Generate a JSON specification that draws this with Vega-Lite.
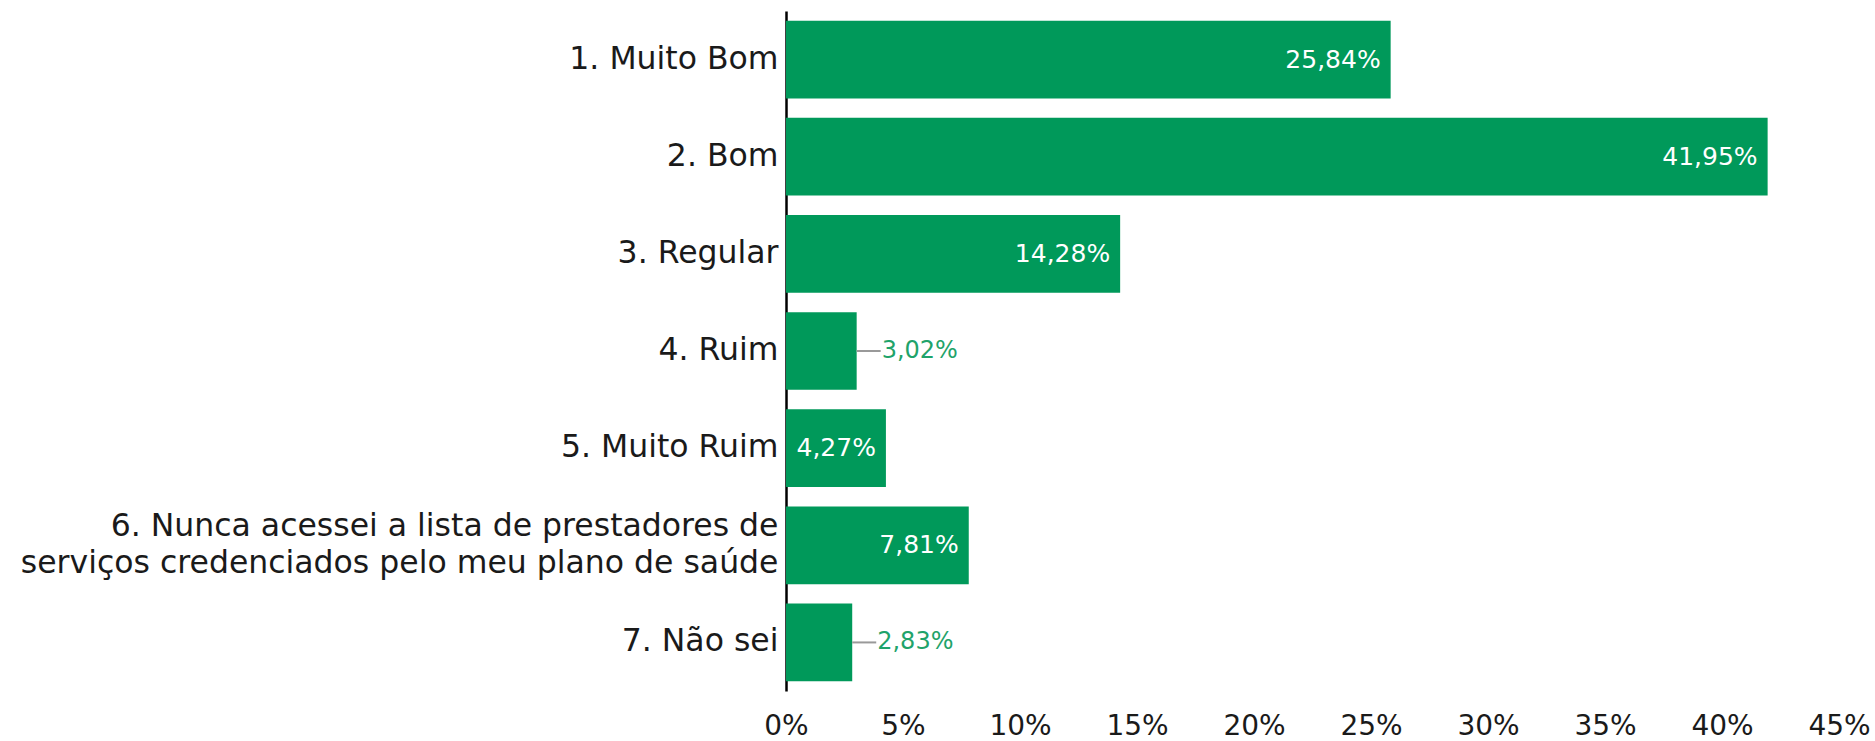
{
  "$schema": "https://vega.github.io/schema/vega-lite/v6.json",
  "width": 1053,
  "height": 680,
  "autosize": {"type": "none"},
  "padding": {"left": 786, "top": 11, "right": 36, "bottom": 50},
  "background": "white",
  "config": {"view": {"stroke": null}, "font": "DejaVu Sans"},
  "data": {
    "values": [
      {"cat": "1. Muito Bom", "value": 25.84, "label": "25,84%"},
      {"cat": "2. Bom", "value": 41.95, "label": "41,95%"},
      {"cat": "3. Regular", "value": 14.28, "label": "14,28%"},
      {"cat": "4. Ruim", "value": 3.02, "label": "3,02%"},
      {"cat": "5. Muito Ruim", "value": 4.27, "label": "4,27%"},
      {"cat": "6. Nunca acessei a lista de prestadores de|serviços credenciados pelo meu plano de saúde", "value": 7.81, "label": "7,81%"},
      {"cat": "7. Não sei", "value": 2.83, "label": "2,83%"}
    ]
  },
  "encoding": {
    "y": {
      "field": "cat", "type": "nominal", "sort": null,
      "scale": {"paddingInner": 0.2, "paddingOuter": 0.1},
      "axis": {
        "title": null, "ticks": false, "domainColor": "#000000", "domainWidth": 2.5,
        "labelFont": "DejaVu Sans", "labelFontSize": 31.5, "labelColor": "#1a1a1a",
        "labelPadding": 8, "labelLimit": 1000, "labelLineHeight": 37,
        "labelOffset": {"condition": {"test": "indexof(datum.value, '|') >= 0", "value": -18}, "value": 0},
        "labelExpr": "split(datum.label, '|')"
      }
    }
  },
  "layer": [
    {
      "mark": {"type": "bar", "color": "#00995a"},
      "encoding": {
        "x": {
          "field": "value", "type": "quantitative",
          "scale": {"domain": [0, 45], "nice": false},
          "axis": {
            "title": null, "grid": false, "domain": false, "ticks": false, "tickSize": 0,
            "values": [0, 5, 10, 15, 20, 25, 30, 35, 40, 45],
            "labelExpr": "datum.value + '%'",
            "labelFont": "DejaVu Sans", "labelFontSize": 28, "labelColor": "#1a1a1a",
            "labelBaseline": "alphabetic", "labelPadding": 43, "labelFlush": false, "labelOverlap": false
          }
        }
      }
    },
    {
      "transform": [{"filter": "datum.value >= 4"}],
      "mark": {"type": "text", "align": "right", "baseline": "middle", "dx": -10, "color": "white", "fontSize": 25, "font": "DejaVu Sans"},
      "encoding": {
        "x": {"field": "value", "type": "quantitative"},
        "text": {"field": "label"}
      }
    },
    {
      "transform": [{"filter": "datum.value < 4"}],
      "mark": {"type": "rule", "color": "#999999", "strokeWidth": 2, "x2Offset": 24},
      "encoding": {
        "x": {"field": "value", "type": "quantitative"},
        "x2": {"field": "value"}
      }
    },
    {
      "transform": [{"filter": "datum.value < 4"}],
      "mark": {"type": "text", "align": "left", "baseline": "middle", "dx": 25, "color": "#1fa36a", "fontSize": 24, "font": "DejaVu Sans"},
      "encoding": {
        "x": {"field": "value", "type": "quantitative"},
        "text": {"field": "label"}
      }
    }
  ]
}
